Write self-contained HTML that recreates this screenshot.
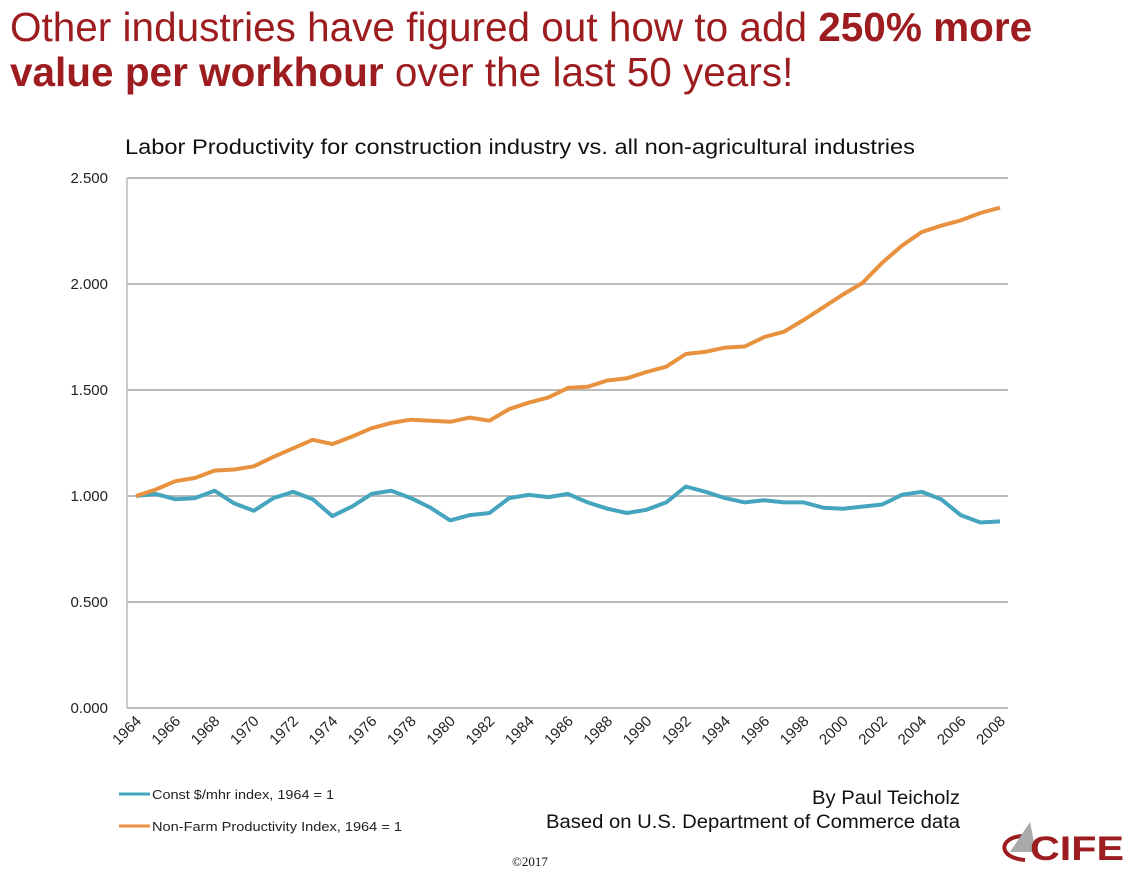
<!DOCTYPE html>
<html><head><meta charset="utf-8"><style>
body{margin:0;width:1137px;height:875px;background:#fff;overflow:hidden;font-family:"Liberation Sans",sans-serif;position:relative}
.t{position:absolute;left:10px;color:#9c1c1f;font-size:40.5px;line-height:45px;white-space:nowrap}
</style></head><body>
<div class="t" style="top:5px">Other industries have figured out how to add <b>250% more</b></div>
<div class="t" style="top:50px"><b>value per workhour</b> over the last 50 years!</div>
<svg id="s" width="1137" height="875" style="position:absolute;left:0;top:0" font-family="Liberation Sans, sans-serif"></svg>
<script>
var o=[1.00,1.03,1.07,1.085,1.12,1.125,1.14,1.185,1.225,1.265,1.245,1.28,1.32,1.345,1.36,1.355,1.35,1.37,1.355,1.41,1.44,1.465,1.51,1.515,1.545,1.555,1.585,1.61,1.67,1.68,1.70,1.705,1.75,1.775,1.83,1.89,1.95,2.005,2.10,2.18,2.245,2.275,2.30,2.335,2.36];
var b=[1.00,1.01,0.985,0.99,1.025,0.965,0.93,0.99,1.02,0.985,0.905,0.95,1.01,1.025,0.99,0.945,0.885,0.91,0.92,0.99,1.005,0.995,1.01,0.97,0.94,0.92,0.935,0.97,1.045,1.02,0.99,0.97,0.98,0.97,0.97,0.945,0.94,0.95,0.96,1.005,1.02,0.985,0.91,0.875,0.88];
var X=function(i){return 136+i*864/44},Y=function(v){return 708-v*212};
var h='<text x="125" y="154" font-size="21" fill="#111" textLength="790" lengthAdjust="spacingAndGlyphs">Labor Productivity for construction industry vs. all non-agricultural industries</text>';
h+='<line x1="127" y1="178" x2="127" y2="708" stroke="#bbb" stroke-width="1.5"/>';
for(var k=0;k<=5;k++){var y=Y(k*0.5);h+='<line x1="127" y1="'+y+'" x2="1008" y2="'+y+'" stroke="#bbb" stroke-width="2"/>';
h+='<text x="108" y="'+(y+5)+'" font-size="15" text-anchor="end" fill="#222">'+(k*0.5).toFixed(3)+'</text>';}
for(var i=0;i<=44;i+=2){var x=X(i)+6;h+='<text transform="translate('+x+',722) rotate(-45)" font-size="15" text-anchor="end" fill="#222">'+(1964+i)+'</text>';}
function p(a,c){return '<polyline fill="none" stroke="'+c+'" stroke-width="4" stroke-linejoin="round" points="'+a.map(function(v,i){return X(i).toFixed(1)+','+Y(v).toFixed(1)}).join(' ')+'"/>';}
h+=p(b,'#45a5bf')+p(o,'#e8923f');
h+='<line x1="119" y1="794" x2="150" y2="794" stroke="#45a5bf" stroke-width="3"/><text x="152" y="799" font-size="13" fill="#222" textLength="182" lengthAdjust="spacingAndGlyphs">Const $/mhr index, 1964 = 1</text>';
h+='<line x1="119" y1="826" x2="150" y2="826" stroke="#e8923f" stroke-width="3"/><text x="152" y="831" font-size="13" fill="#222" textLength="250" lengthAdjust="spacingAndGlyphs">Non-Farm Productivity Index, 1964 = 1</text>';
h+='<text x="812" y="804" font-size="19" fill="#111" textLength="148" lengthAdjust="spacingAndGlyphs">By Paul Teicholz</text>';
h+='<text x="546" y="828" font-size="19" fill="#111" textLength="414" lengthAdjust="spacingAndGlyphs">Based on U.S. Department of Commerce data</text>';
h+='<text x="530" y="866" font-size="13" text-anchor="middle" font-family="Liberation Serif, serif" fill="#111">©2017</text>';
h+='<path d="M1025 860 C998 858 998 838 1022 836" fill="none" stroke="#9c1c1f" stroke-width="4"/><path d="M1010 852 L1030 822 L1036 852 Z" fill="#aaa"/>';
h+='<text x="1030" y="860" font-size="34" font-weight="bold" fill="#9c1c1f" textLength="94" lengthAdjust="spacingAndGlyphs">CIFE</text>';
document.getElementById('s').innerHTML=h;
</script>
</body></html>
